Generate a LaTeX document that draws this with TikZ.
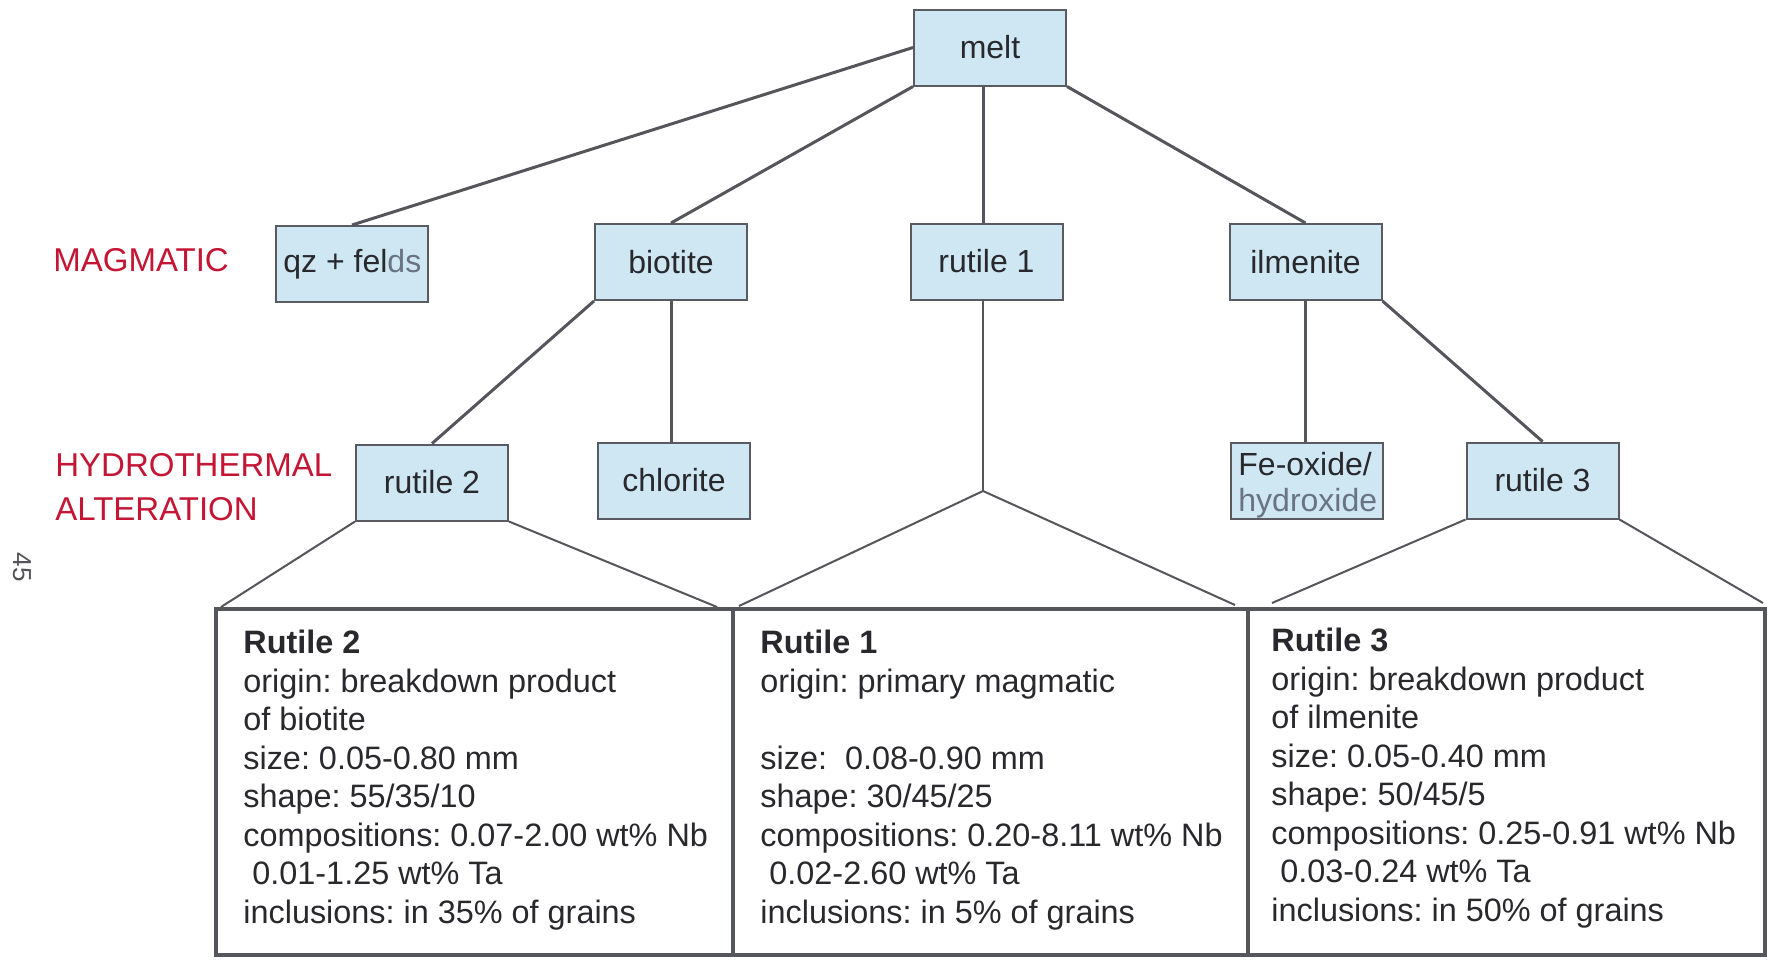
\documentclass[tikz,border=0pt]{standalone}
\usepackage{fontspec}
\setmainfont{Liberation Sans}
\frenchspacing
\definecolor{magred}{RGB}{196,22,52}
\definecolor{boxfill}{RGB}{206,231,243}
\definecolor{boxline}{RGB}{90,90,98}
\definecolor{conline}{RGB}{85,85,92}
\definecolor{txt}{RGB}{40,40,45}
\definecolor{fade}{RGB}{105,115,130}
\begin{document}
\begin{tikzpicture}[x=0.5pt,y=-0.5pt,
  mbox/.style={draw=boxline, line width=1pt, fill=boxfill, minimum width=76pt, minimum height=38pt, inner sep=0pt, font=\fontsize{16}{19}\selectfont, text=txt},
  conn/.style={draw=conline, line width=1.5pt},
  fan/.style={draw=conline, line width=1pt},
  panel/.style={draw=conline, line width=2pt, fill=white},
  ptext/.style={anchor=north west, inner sep=0pt, align=left, text=txt, font=\fontsize{16.2}{19.25}\selectfont},
  stage/.style={anchor=west, inner sep=0pt, align=left, text=magred, font=\fontsize{16.5}{22}\selectfont}]
\useasboundingbox[fill=white] (0,0) rectangle (1770,960);

% stage labels
\node[stage] (mag) at (53,260) {MAGMATIC};
\node[stage, anchor=north west] (hyd) at (55,453) {HYDROTHERMAL\\ALTERATION};
\node[rotate=-90, inner sep=0pt, text=txt!80, font=\fontsize{13}{15}\selectfont] (pg) at (22,567) {45};

% boxes
\node[mbox] (melt) at (990,47.5) {melt};
\node[mbox] (qz) at (352,264) {};
\node[anchor=west, inner sep=0pt, text=txt, font=\fontsize{16}{19}\selectfont] (qztxt) at (283,264) {qz + fel\textcolor{fade}{ds}};
\node[mbox] (biotite) at (671,262) {biotite};
\node[mbox] (rutile1) at (986.5,261.5) {rutile 1};
\node[mbox] (ilmenite) at (1305.5,262) {ilmenite};
\node[mbox] (rutile2) at (432,482.5) {rutile 2};
\node[mbox] (chlorite) at (674,480.5) {chlorite};
\node[mbox] (feox) at (1307,481) {};
\node[anchor=west, inner sep=0pt, align=left, text=txt, font=\fontsize{16}{18}\selectfont] (feoxtxt) at (1238,485) {Fe-oxide/\\\textcolor{fade}{hydroxide}};
\node[mbox] (rutile3) at (1542.5,480.5) {rutile 3};

% panels
\draw[panel] (216,609) rectangle (733,955);
\draw[panel] (733,609) rectangle (1248,955);
\draw[panel] (1248,609) rectangle (1765,955);
\coordinate (p2l) at (221,607);
\coordinate (p2r) at (717,607);
\coordinate (p1l) at (739,606);
\coordinate (p1r) at (1235,605);
\coordinate (p3l) at (1272,603);
\coordinate (p3r) at (1763,603);
\coordinate (r1fork) at (983,491);

% connectors
\draw[conn] (melt.west) -- (qz.north);
\draw[conn] (melt.south west) -- (biotite.north);
\draw[conn] (r1fork |- rutile1.north) -- (r1fork |- melt.south);
\draw[conn] (melt.south east) -- (ilmenite.north);
\draw[conn] (biotite.south west) -- (rutile2.north);
\draw[conn] (biotite.south) -- (biotite.south |- chlorite.north);
\draw[conn] (ilmenite.south) -- (ilmenite.south |- feox.north);
\draw[conn] (ilmenite.south east) -- (rutile3.north);
\draw[fan] (r1fork |- rutile1.south) -- (r1fork);
\draw[fan] (p1l) -- (r1fork) -- (p1r);
\draw[fan] (rutile2.south west) -- (p2l);
\draw[fan] (rutile2.south east) -- (p2r);
\draw[fan] (rutile3.south west) -- (p3l);
\draw[fan] (rutile3.south east) -- (p3r);

% panel texts
\node[ptext] (t2) at (243,630) {\textbf{Rutile 2}\\origin: breakdown product\\of biotite\\size: 0.05-0.80 mm\\shape: 55/35/10\\compositions: 0.07-2.00 wt\% Nb\\~0.01-1.25 wt\% Ta\\inclusions: in 35\% of grains};
\node[ptext] (t1) at (760,630) {\textbf{Rutile 1}\\origin: primary magmatic\\[19.25pt]size:~ 0.08-0.90 mm\\shape: 30/45/25\\compositions: 0.20-8.11 wt\% Nb\\~0.02-2.60 wt\% Ta\\inclusions: in 5\% of grains};
\node[ptext] (t3) at (1271,628) {\textbf{Rutile 3}\\origin: breakdown product\\of ilmenite\\size: 0.05-0.40 mm\\shape: 50/45/5\\compositions: 0.25-0.91 wt\% Nb\\~0.03-0.24 wt\% Ta\\inclusions: in 50\% of grains};
\end{tikzpicture}
\end{document}
